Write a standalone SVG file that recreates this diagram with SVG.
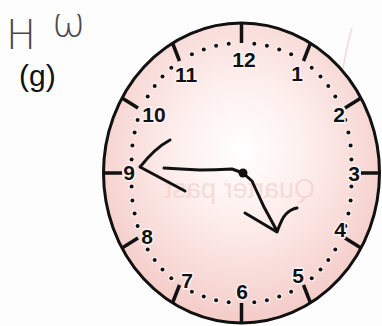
<svg xmlns="http://www.w3.org/2000/svg" width="382" height="326" viewBox="0 0 382 326">
<style>
.num{font-family:"Liberation Sans",Arial,sans-serif;font-weight:bold;font-size:21px;fill:#111;text-anchor:middle;stroke:#fdf3f2;stroke-width:3;paint-order:stroke}
.hand{fill:none;stroke:#111;stroke-width:3;stroke-linecap:round;stroke-linejoin:round}
.tick{stroke:#111;stroke-width:3.5}
.dot{fill:#111;stroke:#fbeeed;stroke-width:2.5;paint-order:stroke}
</style>
<defs>
<radialGradient id="face" cx="0.5" cy="0.42" r="0.58">
<stop offset="0" stop-color="#ffffff"/>
<stop offset="0.4" stop-color="#fdefed"/>
<stop offset="0.8" stop-color="#f7d8d5"/>
<stop offset="1" stop-color="#f4cbc7"/>
</radialGradient>
</defs>
<rect width="382" height="326" fill="#fdfdfd"/>
<path d="M352 28 Q344 55 340 90" fill="none" stroke="#f5d2cf" stroke-width="1.2"/>
<g id="label">
<text x="6" y="49" font-family="DejaVu Sans,sans-serif" font-size="40" fill="#4a4a4a" font-weight="200">H</text>
<text x="52" y="36" font-family="DejaVu Sans,sans-serif" font-size="40" fill="#4a4a4a" font-weight="200">ω</text>
<text x="19" y="86" font-family="Liberation Sans,Arial,sans-serif" font-size="30" fill="#111">(g)</text>
</g>
<g id="clock">
<ellipse cx="241.5" cy="173" rx="138" ry="150" fill="url(#face)" stroke="#111" stroke-width="3"/>
<text transform="scale(-1,1)" x="-240" y="198" font-family="Liberation Sans,Arial,sans-serif" font-size="27" fill="#f2c9c5" text-anchor="middle" opacity="0.55">Quarter past</text>
<g id="ticks">
<line class="tick" x1="241.5" y1="23" x2="241.5" y2="43"/>
<line class="tick" x1="310.5" y1="43" x2="303.5" y2="61"/>
<line class="tick" x1="361" y1="98" x2="345" y2="108"/>
<line class="tick" x1="379.5" y1="173" x2="361" y2="173"/>
<line class="tick" x1="361" y1="248" x2="345" y2="238"/>
<line class="tick" x1="310.5" y1="303" x2="303.5" y2="285"/>
<line class="tick" x1="241.5" y1="323" x2="241.5" y2="303"/>
<line class="tick" x1="172.5" y1="303" x2="179.5" y2="285"/>
<line class="tick" x1="122" y1="248" x2="138" y2="238"/>
<line class="tick" x1="103.5" y1="173" x2="122" y2="173"/>
<line class="tick" x1="122" y1="98" x2="138" y2="108"/>
<line class="tick" x1="172.5" y1="43" x2="179.5" y2="61"/>
</g>
<g id="dots">
<circle class="dot" cx="254.3" cy="43.7" r="2"/><circle class="dot" cx="266.9" cy="45.8" r="2"/><circle class="dot" cx="279.2" cy="49.4" r="2"/><circle class="dot" cx="291.1" cy="54.2" r="2"/>
<circle class="dot" cx="311.7" cy="67.8" r="2"/><circle class="dot" cx="320.5" cy="76.4" r="2"/><circle class="dot" cx="328.3" cy="86.0" r="2"/><circle class="dot" cx="335.3" cy="96.6" r="2"/>
<circle class="dot" cx="345.4" cy="120.1" r="2"/><circle class="dot" cx="348.4" cy="132.6" r="2"/><circle class="dot" cx="350.6" cy="145.4" r="2"/><circle class="dot" cx="351.4" cy="159.4" r="2"/>
<circle class="dot" cx="351.4" cy="186.6" r="2"/><circle class="dot" cx="350.6" cy="200.6" r="2"/><circle class="dot" cx="348.4" cy="213.4" r="2"/><circle class="dot" cx="345.4" cy="225.9" r="2"/>
<circle class="dot" cx="335.3" cy="249.4" r="2"/><circle class="dot" cx="328.3" cy="260.0" r="2"/><circle class="dot" cx="320.5" cy="269.6" r="2"/><circle class="dot" cx="311.7" cy="278.2" r="2"/>
<circle class="dot" cx="291.1" cy="291.8" r="2"/><circle class="dot" cx="279.2" cy="296.6" r="2"/><circle class="dot" cx="266.9" cy="300.2" r="2"/><circle class="dot" cx="254.3" cy="302.3" r="2"/>
<circle class="dot" cx="228.7" cy="302.3" r="2"/><circle class="dot" cx="216.1" cy="300.2" r="2"/><circle class="dot" cx="203.8" cy="296.6" r="2"/><circle class="dot" cx="191.9" cy="291.8" r="2"/>
<circle class="dot" cx="171.3" cy="278.2" r="2"/><circle class="dot" cx="162.5" cy="269.6" r="2"/><circle class="dot" cx="154.7" cy="260.0" r="2"/><circle class="dot" cx="147.7" cy="249.4" r="2"/>
<circle class="dot" cx="137.6" cy="225.9" r="2"/><circle class="dot" cx="134.6" cy="213.4" r="2"/><circle class="dot" cx="132.4" cy="200.6" r="2"/><circle class="dot" cx="131.6" cy="186.6" r="2"/>
<circle class="dot" cx="131.6" cy="159.4" r="2"/><circle class="dot" cx="132.4" cy="145.4" r="2"/><circle class="dot" cx="134.6" cy="132.6" r="2"/><circle class="dot" cx="137.6" cy="120.1" r="2"/>
<circle class="dot" cx="147.7" cy="96.6" r="2"/><circle class="dot" cx="154.7" cy="86.0" r="2"/><circle class="dot" cx="162.5" cy="76.4" r="2"/><circle class="dot" cx="171.3" cy="67.8" r="2"/>
<circle class="dot" cx="191.9" cy="54.2" r="2"/><circle class="dot" cx="203.8" cy="49.4" r="2"/><circle class="dot" cx="216.1" cy="45.8" r="2"/><circle class="dot" cx="228.7" cy="43.7" r="2"/>
</g>
<g id="numbers">
<text class="num" x="244" y="67">12</text>
<text class="num" x="297" y="81">1</text>
<text class="num" x="339" y="122">2</text>
<text class="num" x="354" y="181">3</text>
<text class="num" x="340" y="237">4</text>
<text class="num" x="298" y="283">5</text>
<text class="num" x="242" y="299">6</text>
<text class="num" x="187" y="288">7</text>
<text class="num" x="147" y="244">8</text>
<text class="num" x="129" y="180">9</text>
<text class="num" x="154" y="122">10</text>
<text class="num" x="186" y="82">11</text>
</g>
<g id="hands">
<path class="hand" d="M243 173 L232 169 Q215 170 200 170 Q180 169 164 168"/>
<path class="hand" d="M170 140 Q155 148 140 167 L185 191"/>
<path class="hand" d="M243 173 L252 181 Q257 192 264 207 L277 231"/>
<path class="hand" d="M245 213 L277 232 Q282 218 286 214 Q291 209 297 208"/>
<circle cx="243" cy="173" r="4.5" fill="#111"/>
</g>
</g>
</svg>
